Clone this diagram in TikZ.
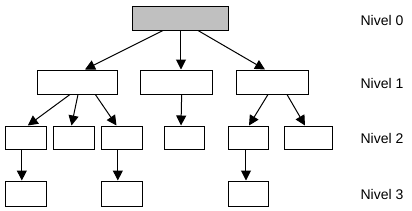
\documentclass[tikz,border=0pt]{standalone}
\usepackage{fontspec}
\setmainfont{Liberation Sans}
\usetikzlibrary{arrows.meta}
\definecolor{shade}{HTML}{C0C0C0}

\begin{document}
\begin{tikzpicture}[x=.75pt,y=-.75pt, every node/.style={font=\fontsize{10.5}{12}\selectfont},
    box/.style={draw,line width=.75pt,inner sep=0pt,minimum height=18pt},
    arr/.style={-{Triangle[width=7.5pt,length=7.5pt]},line width=.75pt}]
    \useasboundingbox (0,0) rectangle (412,211);
    % nivel 0 y 1
    \node[box,fill=shade,minimum width=72pt] (root) at (181,18) {};
    \node[box,minimum width=60pt] (a1) at (78,82) {};
    \node[box,minimum width=54pt] (b1) at (177,82) {};
    \node[box,minimum width=54pt] (c1) at (273,82) {};
    % nivel 2
    \node[box,minimum width=30.75pt,minimum height=17.25pt] (d2) at (26.5,137.5) {};
    \node[box,minimum width=30.75pt,minimum height=17.25pt] (e2) at (74.5,137.5) {};
    \node[box,minimum width=30.75pt,minimum height=17.25pt] (f2) at (122.5,137.5) {};
    \node[box,minimum width=30pt,minimum height=17.25pt] (g2) at (185,137.5) {};
    \node[box,minimum width=30pt,minimum height=17.25pt] (h2) at (249,137.5) {};
    \node[box,minimum width=36pt,minimum height=17.25pt] (i2) at (309,137.5) {};
    % nivel 3
    \node[box,minimum width=30.75pt,minimum height=18.75pt] (j3) at (26.5,193.5) {};
    \node[box,minimum width=30.75pt,minimum height=18.75pt] (k3) at (122.5,193.5) {};
    \node[box,minimum width=30pt,minimum height=18.75pt] (l3) at (249,193.5) {};
    % etiquetas
    \node (n0) at (382,20) {Nivel 0};
    \node (n1) at (382,83) {Nivel 1};
    \node (n2) at (382,138) {Nivel 2};
    \node (n3) at (382,194) {Nivel 3};
    % flechas
    \draw[arr] ([xshift=-13.5pt]root.south)--([xshift=5.25pt]a1.north);
    \draw[arr] (root.south)--(root.south |- b1.north);
    \draw[arr] ([xshift=12.75pt]root.south)--([xshift=-6pt]c1.north);
    \draw[arr] ([xshift=-6pt]a1.south)--([xshift=1pt]d2.north);
    \draw[arr] (a1.south)--([xshift=-2.25pt]e2.north);
    \draw[arr] ([xshift=13pt]a1.south)--([xshift=-4.5pt]f2.north);
    \draw[arr] ([xshift=3.5pt]b1.south)--([xshift=-3pt]g2.north);
    \draw[arr] ([xshift=-3.75pt]c1.south)--([xshift=0pt]h2.north);
    \draw[arr] ([xshift=10.5pt]c1.south)--([xshift=-3pt]i2.north);
    \draw[arr] ([xshift=-3.5pt]d2.south)--([xshift=-3.5pt]j3.north);
    \draw[arr] ([xshift=-3.5pt]f2.south)--([xshift=-3.5pt]k3.north);
    \draw[arr] ([xshift=-2.25pt]h2.south)--([xshift=-2.25pt]l3.north);
\end{tikzpicture}
\end{document}
